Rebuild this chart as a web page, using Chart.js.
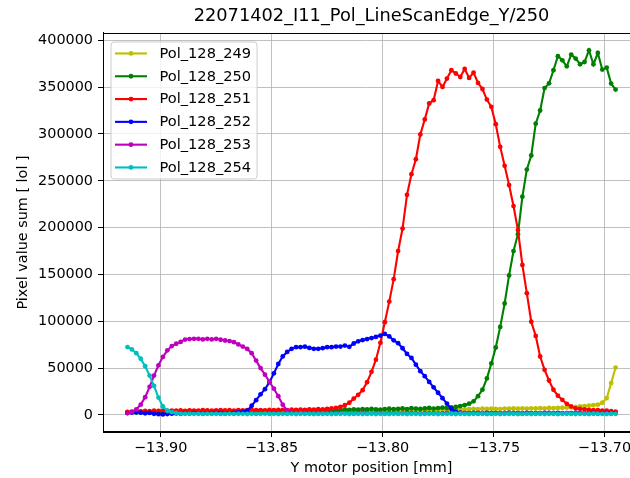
<!DOCTYPE html>
<html><head><meta charset="utf-8">
<script src="https://cdn.jsdelivr.net/npm/chart.js@4/dist/chart.umd.min.js"></script>
<style>
html,body{margin:0;padding:0;background:#fff;overflow:hidden;}
#wrap{position:relative;width:630px;height:478px;overflow:hidden;background:#fff;}
canvas{display:block;}
</style></head><body>
<div id="wrap"><canvas id="c" width="630" height="478" style="width:630px;height:478px"></canvas></div>
<script>
const xPos = [-13.915,-13.913,-13.911,-13.909,-13.907,-13.905,-13.903,-13.901,-13.899,-13.897,
-13.895,-13.893,-13.891,-13.889,-13.887,-13.885,-13.883,-13.881,-13.879,-13.877,
-13.875,-13.873,-13.871,-13.869,-13.867,-13.865,-13.863,-13.861,-13.859,-13.857,
-13.855,-13.853,-13.851,-13.849,-13.847,-13.845,-13.843,-13.841,-13.839,-13.837,
-13.835,-13.833,-13.831,-13.829,-13.827,-13.825,-13.823,-13.821,-13.819,-13.817,
-13.815,-13.813,-13.811,-13.809,-13.807,-13.805,-13.803,-13.801,-13.799,-13.797,
-13.795,-13.793,-13.791,-13.789,-13.787,-13.785,-13.783,-13.781,-13.779,-13.777,
-13.775,-13.773,-13.771,-13.769,-13.767,-13.765,-13.763,-13.761,-13.759,-13.757,
-13.755,-13.753,-13.751,-13.749,-13.747,-13.745,-13.743,-13.741,-13.739,-13.737,
-13.735,-13.733,-13.731,-13.729,-13.727,-13.725,-13.723,-13.721,-13.719,-13.717,
-13.715,-13.713,-13.711,-13.709,-13.707,-13.705,-13.703,-13.701,-13.699,-13.697,
-13.695];

const pol249 = [3000,3200,2900,3400,3100,3300,3000,3500,3200,3400,
3300,3500,3200,3600,3400,3300,3700,3500,3400,3800,
3600,3500,3900,3700,3600,4000,3800,3700,4100,3900,
3800,4200,4000,3900,4300,4100,4000,4400,4200,4100,
4500,4300,4200,4600,4400,4300,4700,4500,4400,4800,
4600,4500,4900,4700,4600,5000,4800,4700,5100,4900,
5000,5400,5200,5100,5500,5300,5200,5600,5400,5300,
5700,5500,5800,6000,5700,6200,6000,6300,6500,6200,
6600,6400,6700,6500,6300,6800,6600,6900,6700,7000,
6800,7100,6900,7200,7000,7400,7200,7500,7700,7900,
8000,8500,9000,9500,10000,10500,11000,13000,18000,34000,50600];

const pol250 = [2500,2800,2600,3000,2700,2900,3100,2800,3000,3200,
2900,3100,3300,3000,3200,3400,3100,3300,3500,3200,
3400,3600,3300,3500,3700,3400,3600,3800,3500,3700,
3900,3600,3800,4000,3700,3900,4100,3800,4000,4200,
3900,4100,4300,4000,4200,4400,4100,4300,5200,5800,
5400,6000,5600,6200,5800,6400,6000,5700,6300,6600,
6100,6500,6900,6300,7200,6700,6400,7000,7400,6800,
7300,7800,7500,8000,8500,9500,10500,12000,14500,20000,
27000,39000,55000,72000,94000,119000,149000,175000,193000,233000,
262000,277000,311000,325000,349000,354000,368000,383000,378600,372200,
384700,380500,374400,376800,389300,374400,386400,368700,370800,353800,347400];

const pol251 = [3200,3600,4000,3800,4300,4100,4500,4200,4600,4400,
4700,4500,4800,4400,4900,4600,4700,5000,4800,4600,
4900,5100,4800,5000,4700,5200,4900,5100,5300,5000,
5200,4900,5400,5100,5300,5500,5200,5600,5400,5700,
5500,5900,5700,6100,6000,6400,7000,7500,8500,10500,
13000,17500,21500,26500,35000,46000,59000,77000,99000,121000,
145000,175000,199000,235000,257000,273000,299500,315500,332500,336000,
356600,350200,359100,368000,364500,360800,369400,359800,365500,354500,
348000,336700,328900,310400,286200,266000,245400,223000,197400,160100,
130000,99500,84400,62400,48200,36800,26900,20500,16200,11900,
9100,7000,6500,6000,5500,5000,5000,4500,4500,4000,3500];

const pol252 = [2000,2600,3000,2400,1800,2200,1200,800,600,1000,
1400,1600,1300,1800,1500,2000,1700,1400,1900,1600,
2100,1800,1500,2000,2300,2600,3200,4600,9800,15800,
22000,27500,35000,44400,54400,62500,67300,70600,72400,72400,
72900,71600,70600,70600,71300,72400,72400,73000,73000,74100,
72700,76300,78600,79900,81000,82100,83300,84700,86500,83800,
79700,76600,71200,65100,60900,53700,46700,41400,35300,29500,
23700,17900,12100,6600,3500,2500,2000,1800,2100,1700,
1900,2200,1800,2000,1600,1900,2100,1700,2000,1800,
2200,1900,1700,2000,2100,1800,1900,2200,1700,2000,
1800,2100,1900,1700,2000,2200,1800,1900,2100,1800,2000];

const pol253 = [2000,3000,6000,11000,19000,30000,42000,53000,62000,69000,
73500,76000,78000,80500,81000,81300,81300,80600,81300,80600,
81300,80300,79500,78900,77700,75300,73000,70500,66000,58000,
50000,43000,35500,28000,20000,11000,4500,2500,2000,1800,
2100,1700,1900,2000,1600,1800,2100,1900,1700,2000,
1800,1600,1900,2100,1800,1700,2000,1900,1600,1800,
2000,1700,1900,1800,2100,1700,1600,1900,2000,1800,
1700,1900,2100,1800,1600,1900,2000,1700,1800,2100,
1900,1600,1800,2000,1700,1900,1800,2100,1700,1600,
1900,2000,1800,1700,1900,2100,1800,1600,1900,2000,
1700,1800,2100,1900,1600,1800,2000,1700,1900,1800,2000];

const pol254 = [72500,70000,66000,60000,52000,42000,31000,18500,9000,4500,
3000,2200,1500,1300,1400,1200,1300,1100,1400,1200,
1300,1100,1200,1400,1100,1300,1200,1000,1300,1100,
1200,1400,1100,1200,1000,1300,1100,1200,1000,1300,
1100,1200,1000,1100,1300,1200,1000,1100,1200,1300,
1000,1100,1200,1000,1100,1300,1000,1200,1100,1000,
1200,1100,1300,1000,1100,1200,1000,1100,1300,1200,
1000,1100,1200,1100,1000,1300,1100,1000,1200,1100,
1300,1000,1100,1200,1000,1100,1300,1200,1000,1100,
1200,1000,1100,1300,1000,1200,1100,1000,1200,1300,
1100,1000,1200,1100,1000,1300,1100,1200,1000,1100,1200];

const seriesNames = ['Pol_128_249','Pol_128_250','Pol_128_251','Pol_128_252','Pol_128_253','Pol_128_254'];
const seriesValues = [pol249, pol250, pol251, pol252, pol253, pol254];
const seriesColors = ['#bfbf00','#008000','#ff0000','#0000ff','#bf00bf','#00bfbf'];
const xTickVals = [-13.90,-13.85,-13.80,-13.75,-13.70];
const yTickVals = [0,50000,100000,150000,200000,250000,300000,350000,400000];
const titleText = '22071402_I11_Pol_LineScanEdge_Y/250';
const xLabel = 'Y motor position [mm]';
const yLabel = 'Pixel value sum [ lol ]';

const FONT = '"DejaVu Sans", "Liberation Sans", sans-serif';
const FS = 14.4;
const LFS = 14.6;
const PLOT_RIGHT = 640;
Chart.defaults.font.family = FONT;
Chart.defaults.color = '#000';

const datasets = seriesValues.map((vals, k) => ({
  label: seriesNames[k],
  data: vals.map((v, i) => ({x: xPos[i], y: v})),
  borderColor: seriesColors[k],
  backgroundColor: seriesColors[k],
  pointBackgroundColor: seriesColors[k],
  pointBorderColor: seriesColors[k],
  pointBorderWidth: 0,
  pointRadius: 2.4,
  borderWidth: 2.1,
  tension: 0,
  fill: false,
  order: seriesNames.length - k
}));

// let the plot area run past the right edge of the picture, as in the reference
const extendPlugin = {
  id: 'extendRight',
  afterLayout(chart) {
    const a = chart.chartArea;
    a.right = PLOT_RIGHT; a.width = a.right - a.left;
    const xs = chart.scales.x;
    xs.right = PLOT_RIGHT; xs.width = xs.right - xs.left;
    xs.configure();
    if (chart.titleBlock) {
      chart.titleBlock.right = PLOT_RIGHT;
      chart.titleBlock.width = PLOT_RIGHT - chart.titleBlock.left;
    }
  }
};

const legendPlugin = {
  id: 'mplLegend',
  afterDraw(chart) {
    const ctx = chart.ctx, a = chart.chartArea;
    ctx.save();
    ctx.font = LFS + 'px ' + FONT;
    let maxW = 0;
    seriesNames.forEach(n => { maxW = Math.max(maxW, ctx.measureText(n).width); });
    const bx = a.left + 8, by = a.top + 9;
    const rowH = 22.8, firstY = by + 11.5;
    const textX = bx + 48.5;
    const bw = textX - bx + maxW + 6;
    const bh = 11.5 * 2 + rowH * (seriesNames.length - 1);
    const r = 3;
    ctx.beginPath();
    ctx.moveTo(bx + r, by);
    ctx.lineTo(bx + bw - r, by); ctx.arcTo(bx + bw, by, bx + bw, by + r, r);
    ctx.lineTo(bx + bw, by + bh - r); ctx.arcTo(bx + bw, by + bh, bx + bw - r, by + bh, r);
    ctx.lineTo(bx + r, by + bh); ctx.arcTo(bx, by + bh, bx, by + bh - r, r);
    ctx.lineTo(bx, by + r); ctx.arcTo(bx, by, bx + r, by, r);
    ctx.closePath();
    ctx.fillStyle = 'rgba(255,255,255,0.8)';
    ctx.fill();
    ctx.strokeStyle = '#cccccc';
    ctx.lineWidth = 1;
    ctx.stroke();
    seriesNames.forEach((n, k) => {
      const y = firstY + k * rowH;
      ctx.strokeStyle = seriesColors[k];
      ctx.lineWidth = 2.1;
      ctx.beginPath(); ctx.moveTo(bx + 4, y); ctx.lineTo(bx + 36, y); ctx.stroke();
      ctx.fillStyle = seriesColors[k];
      ctx.beginPath(); ctx.arc(bx + 20, y, 2.4, 0, Math.PI * 2); ctx.fill();
      ctx.fillStyle = '#000';
      ctx.textBaseline = 'middle';
      ctx.textAlign = 'left';
      ctx.fillText(n, textX, y + 0.5);
    });
    ctx.restore();
  }
};

const framePlugin = {
  id: 'frame',
  afterDatasetsDraw(chart) {
    const ctx = chart.ctx, a = chart.chartArea;
    ctx.save();
    ctx.strokeStyle = '#000';
    ctx.lineWidth = 1;
    ctx.strokeRect(Math.round(a.left) + 0.5, Math.round(a.top) + 0.5, Math.round(a.right - a.left), Math.round(a.bottom - a.top));
    ctx.restore();
  }
};

new Chart(document.getElementById('c'), {
  type: 'line',
  data: { datasets },
  options: {
    responsive: false,
    animation: false,
    devicePixelRatio: 1,
    layout: { padding: { left: 0, right: 0, top: 0, bottom: 0 } },
    plugins: {
      legend: { display: false },
      tooltip: { enabled: false },
      title: {
        display: true,
        text: titleText,
        fullSize: false,
        color: '#000',
        font: { size: 17.8, weight: 'normal', family: FONT },
        padding: { top: 6, bottom: 5.6 }
      }
    },
    scales: {
      x: {
        type: 'linear',
        min: -13.926,
        max: -13.684,
        afterFit(s) { s.height = 46; },
        afterBuildTicks(s) { s.ticks = xTickVals.map(v => ({ value: v })); },
        grid: { color: '#b0b0b0', lineWidth: 0.8, drawTicks: true, tickLength: 5, tickColor: '#000', tickWidth: 1 },
        border: { display: true, color: '#000', width: 1 },
        ticks: {
          padding: 3,
          color: '#000',
          font: { size: FS, family: FONT },
          maxRotation: 0,
          autoSkip: false,
          callback: v => (v < 0 ? '\u2212' : '') + Math.abs(v).toFixed(2)
        },
        title: { display: true, text: xLabel, color: '#000', font: { size: FS, family: FONT }, padding: { top: 0, bottom: 1 } }
      },
      y: {
        type: 'linear',
        min: -18200,
        max: 407800,
        afterFit(s) { s.width = 103; },
        afterBuildTicks(s) { s.ticks = yTickVals.map(v => ({ value: v })); },
        grid: { color: '#b0b0b0', lineWidth: 0.8, drawTicks: true, tickLength: 5, tickColor: '#000', tickWidth: 1 },
        border: { display: true, color: '#000', width: 1 },
        ticks: {
          padding: 5,
          color: '#000',
          font: { size: FS, family: FONT },
          autoSkip: false,
          callback: v => String(v)
        },
        title: { display: true, text: yLabel, color: '#000', font: { size: FS, family: FONT }, padding: { top: 15, bottom: 0 } }
      }
    }
  },
  plugins: [extendPlugin, framePlugin, legendPlugin]
});
</script>
</body></html>
